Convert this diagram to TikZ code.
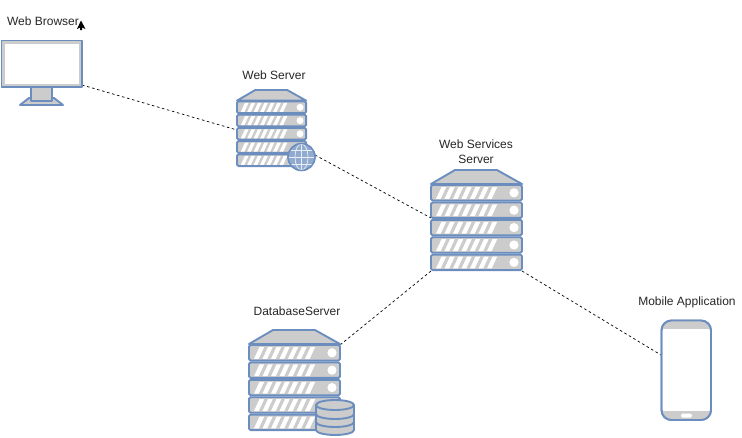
\documentclass[tikz,border=0pt]{standalone}
\usepackage{fontspec}
\setmainfont{Liberation Sans}
\definecolor{iconblue}{HTML}{6C8EBF}
\definecolor{icongray}{HTML}{CCCCCC}
\tikzset{
    iconline/.style={draw=iconblue, line width=1.9pt, fill=icongray, line join=round},
    iconlabel/.style={font=\fontsize{12}{15}\selectfont, text=black!85, align=center, inner sep=0pt},
    wire/.style={black, line width=0.7pt, dash pattern=on 2.6pt off 2.6pt},
    % rack of five units, origin at its top left, 91 wide and 101 high
    serverrack/.pic={
        \draw[iconline] (0,14) -- (24,0) -- (66,0) -- (91,14) -- cycle;
        \foreach \row in {0,...,4} {
            \draw[iconline, rounded corners=1.5pt] (0,15+17.4*\row) rectangle (91,30.5+17.4*\row);
            \foreach \bar in {0,...,6}
                \fill[white] (5+8.5*\bar,28.8+17.4*\row) -- (10.5+8.5*\bar,17+17.4*\row)
                    -- (15.2+8.5*\bar,17+17.4*\row) -- (9.7+8.5*\bar,28.8+17.4*\row) -- cycle;
            \fill[white] (83,22.8+17.4*\row) circle (4.6);
        }
    },
}
\begin{document}
\begin{tikzpicture}[x=1pt, y=-1pt]
    \useasboundingbox (0,0) rectangle (742,437);

    % Connector ends
    \coordinate (browserport) at (82,85);
    \coordinate (webwest) at (237,130);
    \coordinate (webglobe) at (315,155);
    \coordinate (serviceswest) at (431,218);
    \coordinate (servicessw) at (431,271);
    \coordinate (servicesse) at (522,271);
    \coordinate (databaseport) at (340,345);
    \coordinate (mobileport) at (661,355);

    % Connectors
    \draw[wire] (browserport) -- (webwest);
    \draw[wire] (webglobe) -- (serviceswest);
    \draw[wire] (servicessw) -- (databaseport);
    \draw[wire] (servicesse) -- (mobileport);

    % Web browser
    \draw[iconline] (31,86) rectangle (52,101);
    \draw[iconline] (20,105) -- (29,98) -- (31,98) -- (31,101) -- (52,101) -- (52,98) -- (54,98) -- (63,105) -- cycle;
    \draw[iconline] (1.5,40.5) rectangle (82,87);
    \fill[white] (4.5,44) rectangle (78.5,83.5);
    % Cursor
    \fill[black] (81,20.5) -- (85.5,29) -- (82,27.5) -- (82,30) -- (80,30) -- (80,27.5) -- (77,29) -- cycle;

    % Web server
    \pic[scale=0.76] at (237,90) {serverrack};
    \filldraw[iconblue, fill=iconblue!75!white, line width=1.2pt] (301.5,157) circle (13.5);
    \draw[white!85!iconblue, line width=0.7pt] (301.5,157) ellipse (6.5 and 13);
    \draw[white!85!iconblue, line width=0.7pt] (301.5,143.5) -- (301.5,170.5);
    \draw[white!85!iconblue, line width=0.7pt] (288,157) -- (315,157);
    \draw[white!85!iconblue, line width=0.7pt] (290,150) -- (313,150);
    \draw[white!85!iconblue, line width=0.7pt] (290,164) -- (313,164);
    \draw[iconblue, line width=1.4pt] (301.5,157) circle (13.5);

    % Web services server
    \pic at (431,170) {serverrack};

    % Database server
    \pic at (249,330) {serverrack};
    \foreach \level in {421,413,405} {
        \draw[iconline] (316,\level) -- (316,\level+9) arc[start angle=180, end angle=0, x radius=19, y radius=5]
            -- (354,\level) -- cycle;
        \draw[iconline] (335,\level) ellipse (19 and 5);
    }

    % Mobile application
    \draw[iconline, fill=white, rounded corners=10pt] (661.5,320.5) rectangle (711,420);
    \begin{scope}
        \clip[rounded corners=10pt] (661.5,320.5) rectangle (711,420);
        \fill[icongray] (661.5,320.5) rectangle (711,329);
        \fill[icongray] (661.5,411) rectangle (711,420);
    \end{scope}
    \draw[iconblue, line width=1.9pt, rounded corners=10pt] (661.5,320.5) rectangle (711,420);
    \fill[white, rounded corners=1.5pt] (681,413.5) rectangle (692,417.5);

    % Labels
    \node[iconlabel] (browserlabel) at (43,21.5) {Web Browser};
    \node[iconlabel] (weblabel) at (274,75) {Web Server};
    \node[iconlabel] (serviceslabel) at (476,152) {Web Services\\Server};
    \node[iconlabel] (databaselabel) at (297,311.5) {DatabaseServer};
    \node[iconlabel] (mobilelabel) at (687,302) {Mobile Application};
\end{tikzpicture}
\end{document}
